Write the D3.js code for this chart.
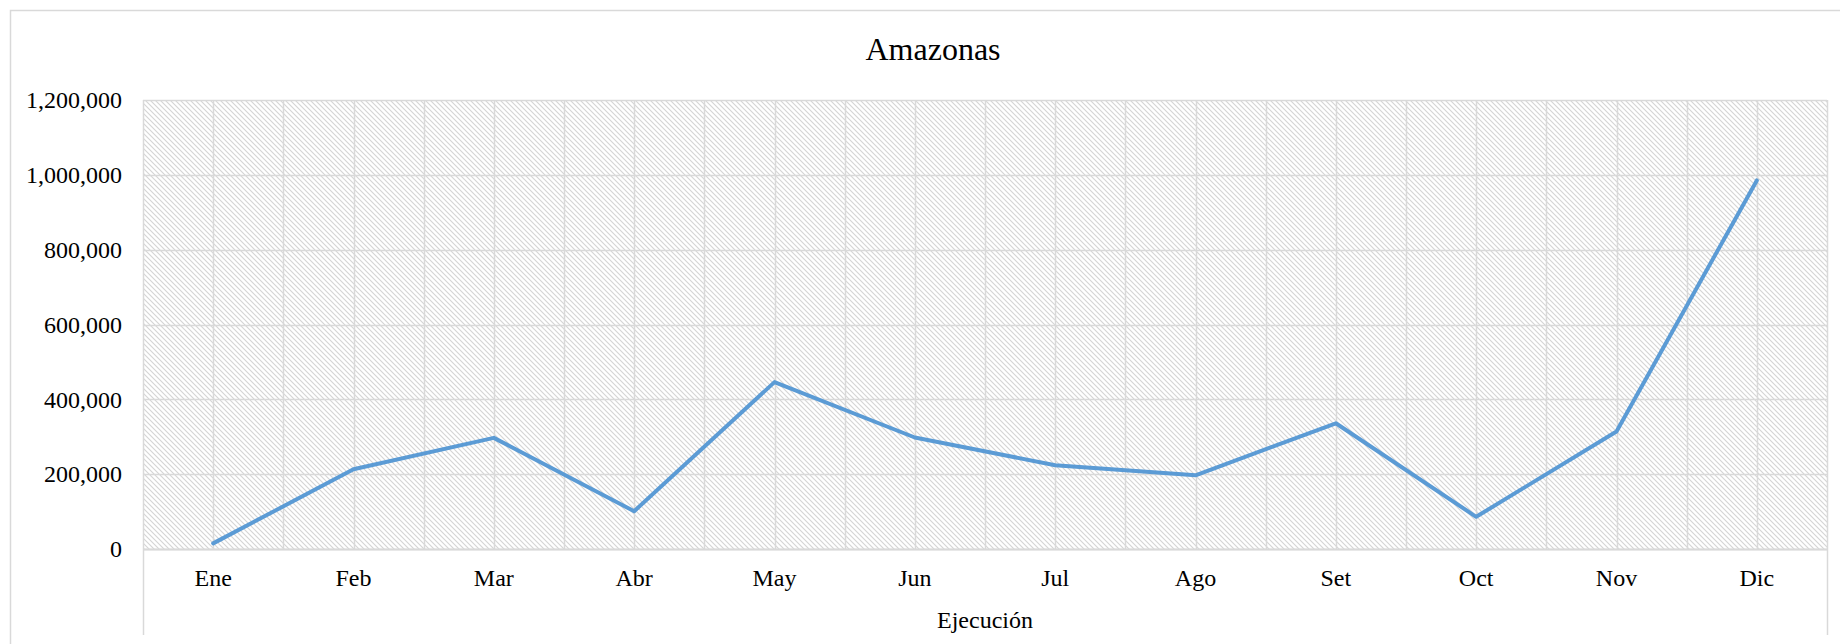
<!DOCTYPE html>
<html>
<head>
<meta charset="utf-8">
<script src="https://cdn.jsdelivr.net/npm/d3@7"></script>
<style>
  html, body { margin: 0; padding: 0; background: #fff; }
  svg { display: block; }
  text { font-family: "Liberation Serif", "Times New Roman", serif; fill: #000; }
</style>
</head>
<body>
<svg id="chart" width="1840" height="644"></svg>
<script>
// datos
const meses = ['Ene', 'Feb', 'Mar', 'Abr', 'May', 'Jun', 'Jul', 'Ago', 'Set', 'Oct', 'Nov', 'Dic']
const ejecucion = [15000, 213000, 297000, 101000, 446000, 298000, 224000, 197000, 336000, 86000, 314000, 985000]
const yTicks = [0, 200000, 400000, 600000, 800000, 1000000, 1200000]
const titulo = 'Amazonas'
const tituloEje = 'Ejecución'

const svg = d3.select('#chart')
const plotLeft = 143, plotRight = 1827, plotTop = 100, plotBottom = 549
const gris = '#d9d9d9'
const serif = '"Liberation Serif", "Times New Roman", serif'

// trama diagonal del area de trazado
const defs = svg.append('defs')
const pat = defs.append('pattern')
    .attr('id', 'hatch')
    .attr('patternUnits', 'userSpaceOnUse')
    .attr('width', 5).attr('height', 5)
pat.append('rect').attr('width', 5).attr('height', 5).attr('fill', '#fff')
pat.append('path')
    .attr('d', 'M-1,-1 L6,6 M-1,4 L1,6 M4,-1 L6,1')
    .attr('stroke', '#d4d4d4').attr('stroke-width', 1.1)

// borde exterior
svg.append('rect')
    .attr('x', 10.5).attr('y', 10.5)
    .attr('width', 1900).attr('height', 700)
    .attr('fill', 'none').attr('stroke', gris).attr('stroke-width', 1.5)

const x = d3.scaleBand().domain(meses).range([plotLeft, plotRight]).padding(0)
const y = d3.scaleLinear().domain([0, 1200000]).range([plotBottom, plotTop])
const bw = x.bandwidth()

svg.append('rect')
    .attr('x', plotLeft).attr('y', plotTop)
    .attr('width', plotRight - plotLeft).attr('height', plotBottom - plotTop)
    .attr('fill', 'url(#hatch)')

// lineas de division verticales (bordes y centros de categoria)
const vx = []
meses.forEach(m => { vx.push(x(m)); vx.push(x(m) + bw / 2) })
vx.push(plotRight)
svg.append('g').selectAll('line')
    .data(vx)
    .enter().append('line')
    .attr('x1', d => Math.round(d) + 0.5).attr('x2', d => Math.round(d) + 0.5)
    .attr('y1', plotTop).attr('y2', plotBottom)
    .attr('stroke', gris).attr('stroke-width', 1.5)

// lineas horizontales
svg.append('g').selectAll('line')
    .data(yTicks)
    .enter().append('line')
    .attr('x1', plotLeft).attr('x2', plotRight)
    .attr('y1', d => Math.round(y(d)) + 0.5).attr('y2', d => Math.round(y(d)) + 0.5)
    .attr('stroke', gris).attr('stroke-width', 1.5)

// eje de categorias: linea base y separadores de grupo
svg.append('line')
    .attr('x1', plotLeft).attr('x2', plotRight)
    .attr('y1', plotBottom + 0.5).attr('y2', plotBottom + 0.5)
    .attr('stroke', gris).attr('stroke-width', 2)
svg.selectAll('line.sep')
    .data([plotLeft, plotRight])
    .enter().append('line')
    .attr('class', 'sep')
    .attr('x1', d => d + 0.5).attr('x2', d => d + 0.5)
    .attr('y1', plotBottom).attr('y2', 635)
    .attr('stroke', gris).attr('stroke-width', 1.5)

// eje y
const yAxis = svg.append('g')
    .attr('transform', `translate(${plotLeft},0)`)
    .call(d3.axisLeft(y).tickValues(yTicks).tickSize(0).tickPadding(21).tickFormat(d3.format(',')))
    .attr('font-family', serif)
    .attr('font-size', 24)
yAxis.select('.domain').remove()
yAxis.selectAll('text').attr('fill', '#000')

// eje x
const xAxis = svg.append('g')
    .attr('transform', `translate(0,${plotBottom})`)
    .call(d3.axisBottom(x).tickSize(0).tickPadding(20))
    .attr('font-family', serif)
    .attr('font-size', 24)
xAxis.select('.domain').remove()
xAxis.selectAll('text').attr('fill', '#000')

// serie
const line = d3.line()
    .x((d, i) => x(meses[i]) + bw / 2)
    .y(d => y(d))
svg.append('path')
    .datum(ejecucion)
    .attr('d', line)
    .attr('fill', 'none')
    .attr('stroke', '#5b9bd5')
    .attr('stroke-width', 4)
    .attr('stroke-linejoin', 'round')
    .attr('stroke-linecap', 'round')

// titulos
svg.append('text')
    .attr('x', 933).attr('y', 60)
    .attr('text-anchor', 'middle')
    .attr('font-family', serif)
    .style('font-size', '32px')
    .text(titulo)
svg.append('text')
    .attr('x', (plotLeft + plotRight) / 2).attr('y', 628)
    .attr('text-anchor', 'middle')
    .attr('font-family', serif)
    .style('font-size', '24px')
    .text(tituloEje)
</script>
</body>
</html>
